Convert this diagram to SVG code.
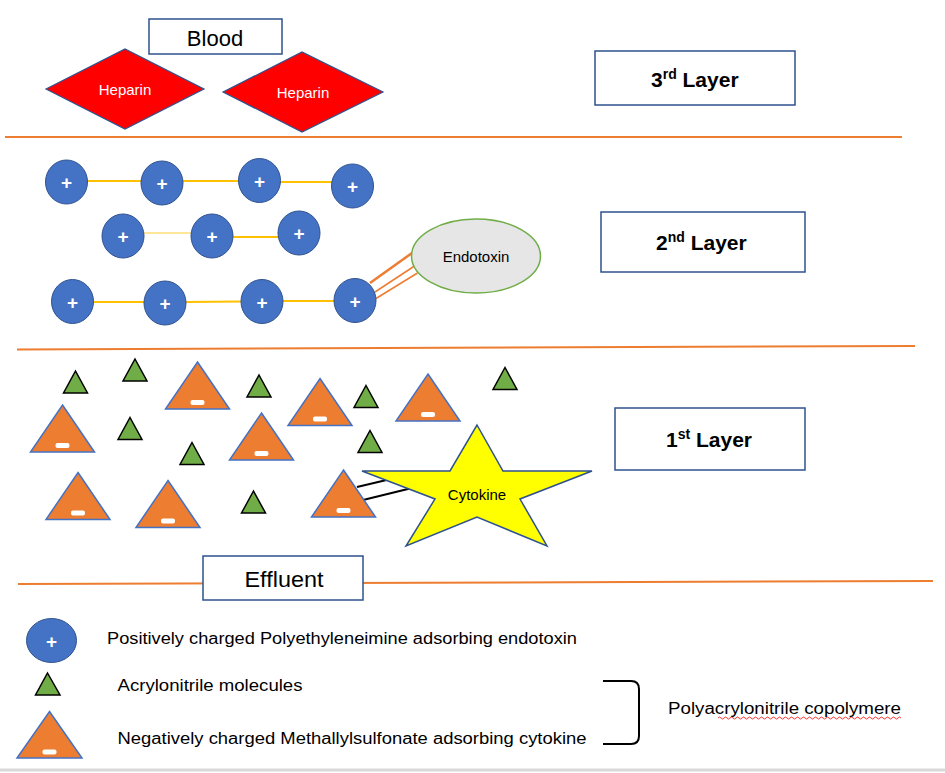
<svg xmlns="http://www.w3.org/2000/svg" width="945" height="773" viewBox="0 0 945 773">
<style>
text{font-family:"Liberation Sans",Arial,sans-serif;fill:#000}
.box{fill:#fff;stroke:#2F528F;stroke-width:1.5}
.sep{stroke:#ED7D31;stroke-width:2;fill:none}
.pei{fill:#4472C4;stroke:#2F528F;stroke-width:1}
.plus{fill:#fff;font-size:19px;font-weight:bold;text-anchor:middle}
.an{fill:#70AD47;stroke:#000;stroke-width:1.5}
.mas{fill:#ED7D31;stroke:#4472C4;stroke-width:1.5}
.minus{fill:#fff}
.chain{stroke:#FFC000;stroke-width:2}
.hep{fill:#FF0000;stroke:#2F528F;stroke-width:1.2}
.hept{fill:#fff;font-size:15px;text-anchor:middle}
.layer{font-size:21px;font-weight:bold}
.leg{font-size:16px}
</style>
<defs>
<ellipse id="pe" cx="0" cy="0" rx="21" ry="22" class="pei"/>
<polygon id="an" points="0,-11 12,11 -12,11" class="an"/>
<g id="ma">
<polygon points="0,-23.5 32,23.5 -32,23.5" class="mas"/>
<rect x="-7" y="14.5" width="14" height="5" rx="2" class="minus"/>
</g>
</defs>

<g id="background">
<rect width="945" height="773" fill="#fff"/>
<line x1="0" y1="770" x2="945" y2="770" stroke="#d9d9d9" stroke-width="3"/>
</g>

<g id="separators">
<line class="sep" x1="5" y1="137" x2="902" y2="137"/>
<line class="sep" x1="17" y1="349.5" x2="915" y2="346"/>
<line class="sep" x1="18" y1="584" x2="933" y2="581"/>
</g>

<g id="blood">
<rect class="box" x="149" y="19" width="133" height="35"/>
<text x="215" y="46" font-size="22" text-anchor="middle">Blood</text>
</g>

<g id="heparin1">
<polygon class="hep" points="46,89 125,49 204,89 125,129"/>
<text class="hept" x="125" y="94.5">Heparin</text>
</g>
<g id="heparin2">
<polygon class="hep" points="223,92 302,52 383,92 302,132"/>
<text class="hept" x="303" y="98">Heparin</text>
</g>

<g id="layer3">
<rect class="box" x="595" y="51" width="200" height="54"/>
<text class="layer" x="651" y="87">3<tspan font-size="14" dy="-8">rd</tspan><tspan dy="8"> Layer</tspan></text>
</g>
<g id="layer2">
<rect class="box" x="601" y="212" width="204" height="60"/>
<text class="layer" x="656" y="250">2<tspan font-size="14" dy="-8">nd</tspan><tspan dy="8"> Layer</tspan></text>
</g>
<g id="layer1">
<rect class="box" x="615" y="408" width="190" height="62"/>
<text class="layer" x="666" y="447">1<tspan font-size="14" dy="-8">st</tspan><tspan dy="8"> Layer</tspan></text>
</g>

<g id="connectors">
<line class="chain" x1="87" y1="181" x2="142" y2="181"/>
<line class="chain" x1="183" y1="181" x2="239" y2="181"/>
<line class="chain" x1="280" y1="182" x2="332" y2="182"/>
<line stroke="#FFE699" stroke-width="2" x1="144" y1="233" x2="191" y2="233"/>
<line class="chain" x1="233" y1="237" x2="279" y2="237"/>
<line class="chain" x1="93" y1="302" x2="144" y2="302"/>
<line class="chain" x1="186" y1="302" x2="241" y2="301.5" stroke-width="2.5"/>
<line class="chain" x1="283" y1="301" x2="334" y2="301"/>
<line stroke="#ED7D31" stroke-width="2.5" x1="370" y1="283" x2="412" y2="253"/>
<line stroke="#ED7D31" stroke-width="1.5" x1="375" y1="292" x2="414.5" y2="266"/>
<line stroke="#ED7D31" stroke-width="1.5" x1="376" y1="298.5" x2="417.5" y2="273"/>
<line stroke="#000" stroke-width="2" x1="357" y1="487" x2="395" y2="478"/>
<line stroke="#000" stroke-width="2" x1="363" y1="500" x2="412" y2="488"/>
</g>

<g id="pei-row1">
<use href="#pe" x="66.5" y="182"/><text class="plus" x="66.5" y="189">+</text>
<use href="#pe" x="162" y="183"/><text class="plus" x="162" y="190">+</text>
<use href="#pe" x="259.5" y="180.5"/><text class="plus" x="259.5" y="187.5">+</text>
<use href="#pe" x="352.5" y="186"/><text class="plus" x="352.5" y="193">+</text>
</g>
<g id="pei-row2">
<use href="#pe" x="123" y="236"/><text class="plus" x="123" y="243">+</text>
<use href="#pe" x="212" y="236"/><text class="plus" x="212" y="243">+</text>
<use href="#pe" x="299" y="233"/><text class="plus" x="299" y="240">+</text>
</g>
<g id="pei-row3">
<use href="#pe" x="72.5" y="301.5"/><text class="plus" x="72.5" y="308.5">+</text>
<use href="#pe" x="165" y="303"/><text class="plus" x="165" y="310">+</text>
<use href="#pe" x="262" y="301.5"/><text class="plus" x="262" y="308.5">+</text>
<use href="#pe" x="355" y="300.5"/><text class="plus" x="355" y="307.5">+</text>
</g>

<g id="endotoxin">
<ellipse cx="476" cy="256" rx="64.5" ry="37" fill="#E7E6E6" stroke="#70AD47" stroke-width="1.5"/>
<text x="476" y="261.5" font-size="15" text-anchor="middle">Endotoxin</text>
</g>

<g id="acrylonitrile">
<use href="#an" x="75.5" y="382"/>
<use href="#an" x="135" y="370"/>
<use href="#an" x="259" y="386"/>
<use href="#an" x="366" y="396.5"/>
<use href="#an" x="505" y="378.5"/>
<use href="#an" x="130" y="428.5"/>
<use href="#an" x="192" y="453.5"/>
<use href="#an" x="370" y="441.5"/>
<use href="#an" x="253.5" y="502"/>
</g>

<g id="methallylsulfonate">
<use href="#ma" x="197.5" y="385.5"/>
<use href="#ma" x="320" y="402"/>
<use href="#ma" x="428" y="397.5"/>
<use href="#ma" x="62.5" y="428.5"/>
<use href="#ma" x="261.5" y="436.5"/>
<use href="#ma" x="78" y="496"/>
<use href="#ma" x="168" y="504"/>
<use href="#ma" x="343.5" y="493.5"/>
</g>

<g id="cytokine">
<polygon points="477,425 503,471 592,471 520,499 547,546 477,517 406,546 435,499 362,471 450,471" fill="#FFFF00" stroke="#2F528F" stroke-width="1.5"/>
<text x="477" y="500" font-size="15" text-anchor="middle">Cytokine</text>
</g>

<g id="effluent">
<rect class="box" x="203" y="556" width="160" height="44"/>
<text x="284" y="587" font-size="22" text-anchor="middle" textLength="79" lengthAdjust="spacingAndGlyphs">Effluent</text>
</g>

<g id="legend-pei">
<ellipse cx="51.5" cy="640.5" rx="25" ry="22" class="pei"/>
<text class="plus" x="51.5" y="647.5">+</text>
<text class="leg" x="107" y="644" textLength="470" lengthAdjust="spacingAndGlyphs">Positively charged Polyethyleneimine adsorbing endotoxin</text>
</g>
<g id="legend-an">
<polygon points="47.5,673 60,695 35.5,695" class="an"/>
<text class="leg" x="117.5" y="691" textLength="185" lengthAdjust="spacingAndGlyphs">Acrylonitrile molecules</text>
</g>
<g id="legend-ma">
<polygon points="49.5,711.5 82,758 17,758" class="mas"/>
<rect x="42.5" y="749.5" width="14" height="5" rx="2" class="minus"/>
<text class="leg" x="117.5" y="744" textLength="469" lengthAdjust="spacingAndGlyphs">Negatively charged Methallylsulfonate adsorbing cytokine</text>
</g>
<g id="legend-bracket">
<path d="M603,681 L631,681 Q639,681 639,689 L639,736 Q639,744 631,744 L603,744" fill="none" stroke="#000" stroke-width="2"/>
<text class="leg" x="668" y="714" textLength="233" lengthAdjust="spacingAndGlyphs">Polyacrylonitrile copolymere</text>
<path d="M718,718 q1.5,-2 3,0 t3,0 t3,0 t3,0 t3,0 t3,0 t3,0 t3,0 t3,0 t3,0 t3,0 t3,0 t3,0 t3,0 t3,0 t3,0 t3,0 t3,0 t3,0 t3,0 t3,0 t3,0 t3,0 t3,0 t3,0 t3,0 t3,0 t3,0 t3,0 t3,0 t3,0 t3,0 t3,0 t3,0 t3,0 t3,0 t3,0 t3,0 t3,0 t3,0 t3,0 t3,0 t3,0 t3,0 t3,0 t3,0 t3,0 t3,0 t3,0 t3,0 t3,0 t3,0 t3,0 t3,0 t3,0 t3,0 t3,0 t3,0 t3,0 t3,0 t3,0" fill="none" stroke="#FF0000" stroke-width="0.8"/>
</g>
</svg>
